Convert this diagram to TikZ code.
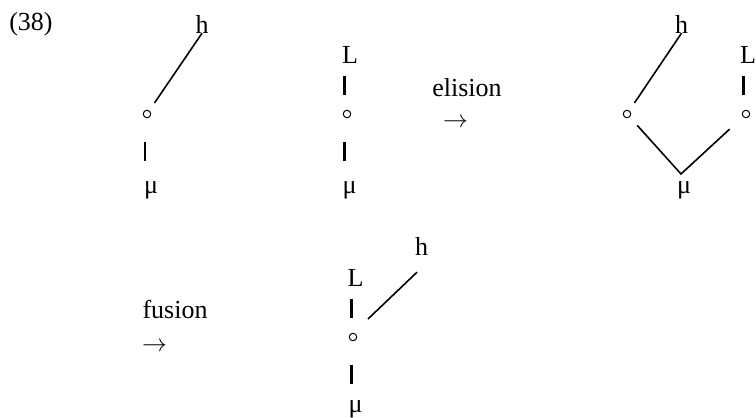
\documentclass[tikz,border=0pt]{standalone}
\usepackage{fontspec}
\setmainfont{Liberation Serif}
\usetikzlibrary{calc}
\begin{document}
\begin{tikzpicture}[x=1pt,y=-1pt,
  txt/.style={font=\fontsize{26}{30}\selectfont, inner sep=0pt, anchor=base},
  dot/.style={circle, draw, line width=1pt, minimum size=7.5pt, inner sep=0pt},
  edge/.style={line width=1.6pt},
  bar/.style={line width=2.3pt}]
\useasboundingbox (0,0) rectangle (756,418);
\node[txt] (num) at (31,30) {(38)};
% tree 1
\node[txt] (h1) at (202,33) {h};
\node[dot] (c1) at (147,114) {};
\node[txt] (m1) at (151,193) {μ};
\draw[edge, shorten >=9pt] (h1.south) -- (c1);
\draw[bar, shorten <=23.75pt, shorten >=32pt] ($(c1.south)+(-2,0)$) -- ($(c1.south |- m1.base)+(-2,0)$);
% tree 2
\node[txt] (L2) at (350,63) {L};
\node[dot] (c2) at (347,114) {};
\node[txt] (m2) at (349.5,193) {μ};
\draw[bar, shorten <=14.75pt, shorten >=13pt] ($(c2.north)+(-2.5,0)$) -- ($(c2.north |- L2.base)+(-2.5,0)$);
\draw[bar, shorten <=23.75pt, shorten >=32pt] ($(c2.south)+(-2.5,0)$) -- ($(c2.south |- m2.base)+(-2.5,0)$);
% elision
\node[txt] (el) at (467,96) {elision};
\node[txt] (ea) at (455.5,127.5) {$\rightarrow$};
% tree 3
\node[txt] (h3) at (681.5,33) {h};
\node[dot] (c3) at (627,114) {};
\node[txt] (m3) at (684,193) {μ};
\node[txt] (L3) at (748,63) {L};
\node[dot] (c3r) at (746,114) {};
\coordinate (v3) at (681,174);
\draw[edge, shorten >=9pt] (h3.south) -- (c3);
\draw[edge, shorten <=11pt, shorten >=18pt] (c3) -- (v3) -- (c3r);
\draw[bar, shorten <=14.75pt, shorten >=13pt] ($(c3r.north)+(-2.5,0)$) -- ($(c3r.north |- L3.base)+(-2.5,0)$);
% fusion
\node[txt] (fu) at (175,318) {fusion};
\node[txt] (fa) at (154.5,351.5) {$\rightarrow$};
% tree 4
\node[txt] (L4) at (355.5,286) {L};
\node[dot] (c4) at (353,337) {};
\node[txt] (m4) at (355.5,412) {μ};
\node[txt] (h4) at (421.5,255) {h};
\coordinate (e4) at ($(h4.south)+(-4.5,17)$);
\coordinate (f4) at ($(c4)+(15,-18)$);
\draw[edge] (e4) -- (f4);
\draw[bar, shorten <=14.75pt, shorten >=13pt] ($(c4.north)+(-1.5,0)$) -- ($(c4.north |- L4.base)+(-1.5,0)$);
\draw[bar, shorten <=23.75pt, shorten >=28pt] ($(c4.south)+(-1.5,0)$) -- ($(c4.south |- m4.base)+(-1.5,0)$);
\end{tikzpicture}
\end{document}
